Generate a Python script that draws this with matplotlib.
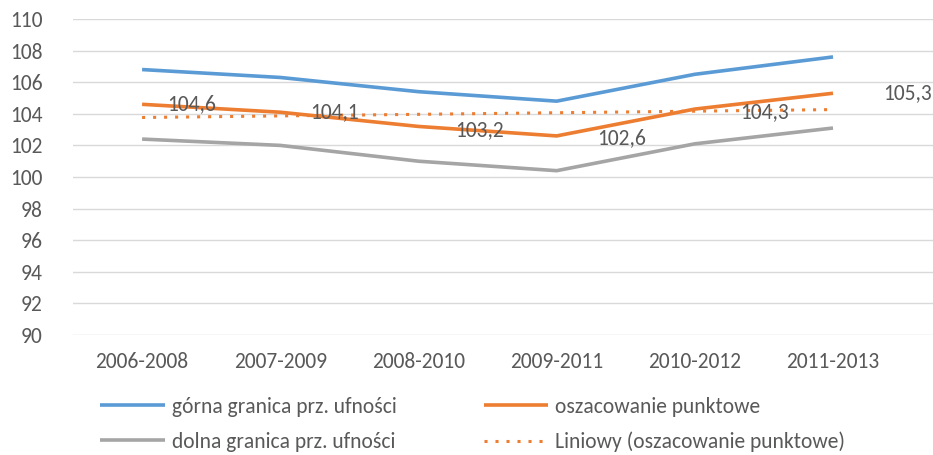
import matplotlib
matplotlib.use("Agg")
import matplotlib.pyplot as plt
import numpy as np
from matplotlib import font_manager

names = {f.name for f in font_manager.fontManager.ttflist}
fam = "Carlito" if "Carlito" in names else "Liberation Sans"
plt.rcParams["font.family"] = [fam, "DejaVu Sans"]

categories = ["2006-2008", "2007-2009", "2008-2010", "2009-2011", "2010-2012", "2011-2013"]
upper = [106.8, 106.3, 105.4, 104.8, 106.5, 107.6]
point = [104.6, 104.1, 103.2, 102.6, 104.3, 105.3]
lower = [102.4, 102.0, 101.0, 100.4, 102.1, 103.1]
point_labels = ["104,6", "104,1", "103,2", "102,6", "104,3", "105,3"]
yticks = [90, 92, 94, 96, 98, 100, 102, 104, 106, 108, 110]

BLUE = "#5B9BD5"
ORANGE = "#ED7D31"
GRAY = "#A5A5A5"
TXT = "#595959"
FS = 15.5

fig = plt.figure(figsize=(9.33, 4.55), dpi=100)
W, H = 933, 455
ax = fig.add_axes([73 / W, 1 - 335 / H, (933 - 73) / W, (335 - 19) / H])

x = np.arange(len(categories))
ax.plot(x, upper, color=BLUE, lw=2.6, label="górna granica prz. ufności", solid_capstyle="butt")
ax.plot(x, lower, color=GRAY, lw=2.6, label="dolna granica prz. ufności", solid_capstyle="butt")
ax.plot(x, point, color=ORANGE, lw=2.6, label="oszacowanie punktowe", solid_capstyle="butt")
coef = np.polyfit(x, point, 1)
ax.plot(x, np.polyval(coef, x), color=ORANGE, lw=2.2, ls=(0, (1, 2.6)),
        label="Liniowy (oszacowanie punktowe)")

offsets = [(18, 0), (21.5, 0), (26.6, -2.6), (29.5, -1.5), (33, -2), (36, 0)]
for xi, yi, lab, off in zip(x, point, point_labels, offsets):
    ax.annotate(lab, (xi, yi), xytext=off, textcoords="offset points",
                ha="left", va="center", fontsize=FS, color=TXT)

ax.set_ylim(90, 110)
ax.set_yticks(yticks)
ax.set_xlim(-0.5, (933 - 142) / 138.2)
ax.set_xticks(x)
ax.set_xticklabels(categories)
ax.grid(axis="y", color="#D9D9D9", lw=1)
ax.set_axisbelow(True)
for s in ax.spines.values():
    s.set_visible(False)
ax.tick_params(axis="both", length=0, colors=TXT, labelsize=FS)
ax.tick_params(axis="y", pad=22)
ax.tick_params(axis="x", pad=12)

handles, labels = ax.get_legend_handles_labels()
leg = fig.legend(handles, labels, ncol=2, loc="upper left",
                 bbox_to_anchor=(100 / W, 1 - 397 / H), frameon=False,
                 borderpad=0, borderaxespad=0,
                 fontsize=FS, handlelength=3.0, handletextpad=0.33,
                 columnspacing=4.05, labelspacing=0.69, labelcolor=TXT)

fig.savefig("out.png", dpi=100)
